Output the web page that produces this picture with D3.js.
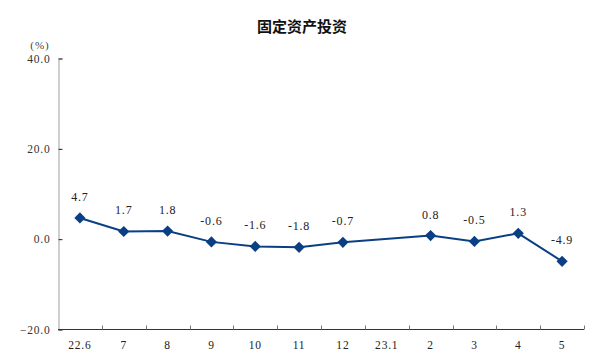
<!DOCTYPE html>
<html><head><meta charset="utf-8">
<script src="https://cdn.jsdelivr.net/npm/d3@7"></script>
<style>
html,body{margin:0;padding:0;background:#fff;}
svg{display:block;}
</style></head>
<body>
<svg id="chart" width="600" height="360"></svg>
<script>
const categories = ["22.6","7","8","9","10","11","12","23.1","2","3","4","5"];
const values = [4.7, 1.7, 1.8, -0.6, -1.6, -1.8, -0.7, null, 0.8, -0.5, 1.3, -4.9];
const yTicks = [-20, 0, 20, 40];
const title = "固定资产投资";
const unit = "(%)";

const svg = d3.select("#chart");
const numFont = "Liberation Serif, DejaVu Serif, serif";
const blue = "#0b3f84";

const x = d3.scaleBand().domain(categories).range([58, 584]);
const y = d3.scaleLinear().domain([-20, 40]).range([329.5, 58.5]);

// title
svg.append("text").attr("x", 302).attr("y", 32)
  .attr("text-anchor", "middle")
  .attr("font-family", "Noto Sans CJK SC, sans-serif")
  .attr("font-weight", "bold").attr("font-size", 15).attr("fill", "#111")
  .text(title);

svg.append("text").attr("x", 40).attr("y", 49)
  .attr("text-anchor", "middle").attr("font-family", numFont)
  .attr("font-size", 11).attr("letter-spacing", 1).attr("fill", "#444").text(unit);

// y axis
const yAxis = svg.append("g").attr("transform", "translate(58.5,0)")
  .call(d3.axisLeft(y).tickValues(yTicks).tickSize(-4).tickPadding(8).tickFormat(d3.format(".1f")));
yAxis.select(".domain").attr("stroke", "#c4c4c4").attr("stroke-width", 1.6);
yAxis.selectAll(".tick line").attr("stroke", "#222");
yAxis.selectAll(".tick text").attr("font-family", numFont).attr("font-size", 11.5)
  .attr("letter-spacing", 0.8).attr("fill", "#333");

// x axis
const xg = svg.append("g").attr("transform", "translate(0,329.5)");
xg.append("line").attr("x1", x.range()[0]).attr("x2", x.range()[1])
  .attr("stroke", "#333").attr("stroke-width", 1.2);
const boundaries = categories.map(c => x(c) + x.bandwidth());
xg.selectAll("line.tk").data(boundaries).join("line").attr("class", "tk")
  .attr("x1", d => Math.round(d) + 0.5).attr("x2", d => Math.round(d) + 0.5)
  .attr("y1", 0).attr("y2", -4).attr("stroke", "#777");
xg.selectAll("text").data(categories).join("text")
  .attr("x", d => x(d) + x.bandwidth() / 2).attr("y", 19)
  .attr("text-anchor", "middle").attr("font-family", numFont)
  .attr("font-size", 11.5).attr("letter-spacing", 0.8).attr("fill", "#222").text(d => d);

// line
const pts = categories.map((c, i) => ({c, v: values[i]})).filter(d => d.v !== null);
const cx = d => x(d.c) + x.bandwidth() / 2;
svg.append("path").datum(pts)
  .attr("d", d3.line().x(cx).y(d => y(d.v)))
  .attr("fill", "none").attr("stroke", blue).attr("stroke-width", 2);

svg.selectAll("path.mk").data(pts).join("path").attr("class", "mk")
  .attr("transform", d => `translate(${cx(d)},${y(d.v)})`)
  .attr("d", d3.symbol(d3.symbolDiamond2, 80)())
  .attr("fill", blue);

svg.selectAll("text.lbl").data(pts).join("text").attr("class", "lbl")
  .attr("x", cx).attr("y", d => y(d.v) - 17)
  .attr("text-anchor", "middle").attr("font-family", numFont)
  .attr("font-size", 12).attr("letter-spacing", 0.8).attr("fill", "#222")
  .text(d => d.v.toFixed(1));
</script>
</body></html>
